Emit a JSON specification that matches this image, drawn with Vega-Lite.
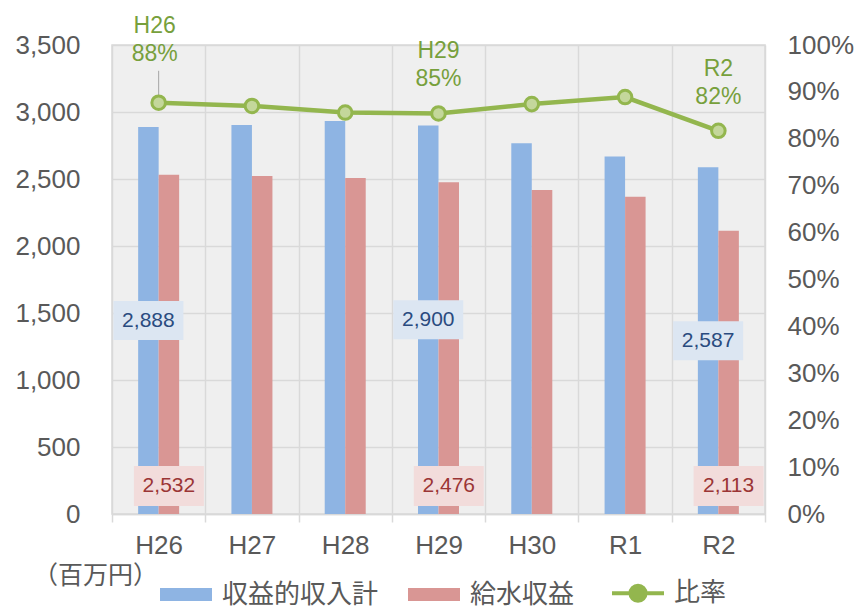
{
  "$schema": "https://vega.github.io/schema/vega-lite/v6.json",
  "width": 653,
  "height": 469,
  "autosize": "none",
  "padding": {"left": 112, "top": 45, "right": 92, "bottom": 94},
  "background": "white",
  "config": {
    "view": {"fill": "#efefef", "stroke": "#d9d9d9", "strokeWidth": 1.5},
    "font": "Liberation Sans",
    "axis": {"labelFont": "Liberation Sans", "labelColor": "#595959", "labelFontSize": 26}
  },
  "datasets": {
    "bars": [
      {"year": "H26", "series": "収益的収入計", "value": 2888},
      {"year": "H26", "series": "給水収益", "value": 2532},
      {"year": "H27", "series": "収益的収入計", "value": 2903},
      {"year": "H27", "series": "給水収益", "value": 2522},
      {"year": "H28", "series": "収益的収入計", "value": 2933},
      {"year": "H28", "series": "給水収益", "value": 2507},
      {"year": "H29", "series": "収益的収入計", "value": 2900},
      {"year": "H29", "series": "給水収益", "value": 2476},
      {"year": "H30", "series": "収益的収入計", "value": 2766},
      {"year": "H30", "series": "給水収益", "value": 2418},
      {"year": "R1", "series": "収益的収入計", "value": 2667},
      {"year": "R1", "series": "給水収益", "value": 2368},
      {"year": "R2", "series": "収益的収入計", "value": 2587},
      {"year": "R2", "series": "給水収益", "value": 2113}
    ],
    "ratio": [
      {"year": "H26", "ratio": 0.877},
      {"year": "H27", "ratio": 0.870},
      {"year": "H28", "ratio": 0.856},
      {"year": "H29", "ratio": 0.854},
      {"year": "H30", "ratio": 0.874},
      {"year": "R1", "ratio": 0.889},
      {"year": "R2", "ratio": 0.817}
    ]
  },
  "resolve": {"scale": {"y": "independent"}},
  "layer": [
    {
      "data": {"name": "bars"},
      "mark": {"type": "bar"},
      "encoding": {
        "x": {
          "field": "year", "type": "nominal",
          "scale": {"domain": ["H26", "H27", "H28", "H29", "H30", "R1", "R2"], "paddingInner": 0, "paddingOuter": 0},
          "axis": {
            "title": null, "labelAngle": 0, "labelPadding": 10,
            "tickBand": "extent", "ticks": true, "tickSize": 8, "tickColor": "#d9d9d9", "tickWidth": 1.5,
            "domainColor": "#d9d9d9", "domainWidth": 1.5,
            "grid": true, "gridColor": "#d9d9d9", "gridWidth": 1.5
          }
        },
        "xOffset": {
          "field": "series", "type": "nominal",
          "scale": {"domain": ["収益的収入計", "給水収益"], "range": [26.15, 67.15], "paddingInner": 0, "paddingOuter": 0}
        },
        "y": {
          "field": "value", "type": "quantitative",
          "scale": {"domain": [0, 3500]},
          "axis": {
            "title": "（百万円）",
            "values": [0, 500, 1000, 1500, 2000, 2500, 3000, 3500],
            "format": ",.0f",
            "grid": true, "gridColor": "#d9d9d9", "gridWidth": 1.5,
            "domain": false, "ticks": false, "labelPadding": 32,
            "titleAngle": 0, "titleX": -17, "titleY": 530,
            "titleAlign": "center", "titleBaseline": "middle",
            "titleFont": "Noto Sans CJK JP", "titleFontSize": 25, "titleFontWeight": "normal", "titleColor": "#595959"
          }
        },
        "color": {
          "field": "series", "type": "nominal",
          "scale": {"domain": ["収益的収入計", "給水収益", "比率"], "range": ["#8eb4e3", "#d99694", "#93b64e"]},
          "legend": {
            "title": null, "orient": "none", "legendX": 51, "legendY": 535, "direction": "horizontal",
            "labelFont": "Noto Sans CJK JP", "labelFontSize": 26, "labelColor": "#595959",
            "labelOffset": 23, "symbolOffset": 10, "columnPadding": 29, "symbolSize": 2704,
            "encode": {
              "symbols": {
                "update": {
                  "shape": {"signal": "datum.value === '比率' ? 'M-1,0L-0.29,0M0.29,0L1,0M0.29,0A0.29,0.29 0 1 1 -0.29,0A0.29,0.29 0 1 1 0.29,0' : 'M-1,-0.25L1,-0.25L1,0.25L-1,0.25Z'"},
                  "fill": {"signal": "datum.value === '比率' ? '#c4d79b' : (datum.value === '給水収益' ? '#d99694' : '#8eb4e3')"},
                  "stroke": {"signal": "datum.value === '比率' ? '#93b64e' : 'transparent'"},
                  "strokeWidth": {"signal": "datum.value === '比率' ? 4 : 0"},
                  "opacity": {"value": 1},
                  "fillOpacity": {"value": 1}
                }
              }
            }
          }
        }
      }
    },
    {
      "data": {"name": "ratio"},
      "encoding": {
        "x": {
          "field": "year", "type": "nominal",
          "scale": {"domain": ["H26", "H27", "H28", "H29", "H30", "R1", "R2"], "paddingInner": 0, "paddingOuter": 0}
        },
        "y": {
          "field": "ratio", "type": "quantitative",
          "scale": {"domain": [0, 1]},
          "axis": {
            "orient": "right", "title": null, "format": ".0%",
            "values": [0, 0.1, 0.2, 0.3, 0.4, 0.5, 0.6, 0.7, 0.8, 0.9, 1],
            "grid": false, "domain": false, "ticks": false, "labelPadding": 22
          }
        }
      },
      "layer": [
        {
          "transform": [{"filter": "datum.year === 'H26'"}],
          "mark": {"type": "rule", "color": "#a6a6a6", "strokeWidth": 1},
          "encoding": {"y2": {"datum": 0.945}}
        },
        {"mark": {"type": "line", "color": "#93b64e", "strokeWidth": 4.5}},
        {"mark": {"type": "point", "shape": "circle", "filled": true, "fill": "#c4d79b", "stroke": "#93b64e", "strokeWidth": 3, "size": 184, "opacity": 1}},
        {
          "transform": [
            {"filter": "datum.year === 'H29' || datum.year === 'R2'"},
            {"calculate": "datum.year + '\\n' + format(datum.ratio, '.0%')", "as": "lbl"}
          ],
          "mark": {"type": "text", "color": "#77a03c", "font": "Liberation Sans", "fontSize": 23, "lineBreak": "\n", "lineHeight": 28, "baseline": "bottom", "dy": -50},
          "encoding": {"text": {"field": "lbl", "type": "nominal"}}
        },
        {
          "transform": [
            {"filter": "datum.year === 'H26'"},
            {"calculate": "datum.year + '\\n' + format(datum.ratio, '.0%')", "as": "lbl"}
          ],
          "mark": {"type": "text", "color": "#77a03c", "font": "Liberation Sans", "fontSize": 23, "lineBreak": "\n", "lineHeight": 28, "baseline": "bottom", "dy": -65, "dx": -4},
          "encoding": {"text": {"field": "lbl", "type": "nominal"}}
        }
      ]
    },
    {
      "data": {"name": "bars"},
      "transform": [{"filter": "datum.series === '収益的収入計' && (datum.year === 'H26' || datum.year === 'H29' || datum.year === 'R2')"}],
      "encoding": {
        "x": {
          "field": "year", "type": "nominal",
          "scale": {"domain": ["H26", "H27", "H28", "H29", "H30", "R1", "R2"], "paddingInner": 0, "paddingOuter": 0}
        },
        "xOffset": {
          "field": "series", "type": "nominal",
          "scale": {"domain": ["収益的収入計", "給水収益"], "range": [26.15, 67.15], "paddingInner": 0, "paddingOuter": 0}
        },
        "y": {"field": "value", "type": "quantitative", "scale": {"domain": [0, 7000]}, "axis": null}
      },
      "layer": [
        {"mark": {"type": "point", "shape": "M-1,-0.557L1,-0.557L1,0.557L-1,0.557Z", "size": 4900, "filled": true, "fill": "#dce6f2", "opacity": 1, "strokeWidth": 0}},
        {
          "mark": {"type": "text", "color": "#2a4b7f", "font": "Liberation Sans", "fontSize": 21, "baseline": "middle"},
          "encoding": {"text": {"field": "value", "type": "quantitative", "format": ",.0f"}}
        }
      ]
    },
    {
      "data": {"name": "bars"},
      "transform": [{"filter": "datum.series === '給水収益' && (datum.year === 'H26' || datum.year === 'H29' || datum.year === 'R2')"}],
      "encoding": {
        "x": {
          "field": "year", "type": "nominal",
          "scale": {"domain": ["H26", "H27", "H28", "H29", "H30", "R1", "R2"], "paddingInner": 0, "paddingOuter": 0}
        },
        "xOffset": {
          "field": "series", "type": "nominal",
          "scale": {"domain": ["収益的収入計", "給水収益"], "range": [26.15, 67.15], "paddingInner": 0, "paddingOuter": 0}
        },
        "y": {"datum": 209, "type": "quantitative", "scale": {"domain": [0, 3500]}, "axis": null}
      },
      "layer": [
        {"mark": {"type": "point", "shape": "M-1,-0.571L1,-0.571L1,0.571L-1,0.571Z", "size": 4900, "filled": true, "fill": "#f2dcdb", "opacity": 1, "strokeWidth": 0}},
        {
          "mark": {"type": "text", "color": "#9b3535", "font": "Liberation Sans", "fontSize": 21, "baseline": "middle"},
          "encoding": {"text": {"field": "value", "type": "quantitative", "format": ",.0f"}}
        }
      ]
    }
  ]
}
